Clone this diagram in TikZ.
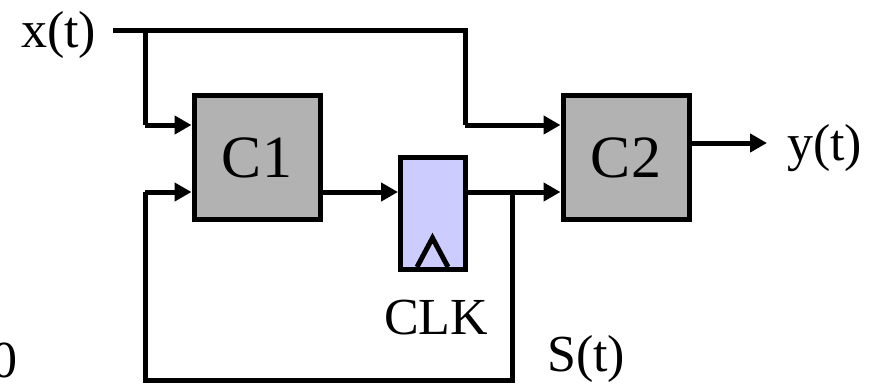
\documentclass[tikz,border=0pt]{standalone}
\usepackage{fontspec}
\setmainfont{Liberation Serif}
\usetikzlibrary{arrows.meta}
\definecolor{boxgray}{HTML}{B2B2B2}
\definecolor{fflav}{HTML}{CCCCFF}
\begin{document}
\begin{tikzpicture}[x=1pt,y=-1pt,
  wire/.style={line width=5pt},
  arr/.style={wire,-{Triangle[length=17pt,width=18pt]}},
  combbox/.style={draw,line width=5pt,fill=boxgray,inner sep=0pt,
    minimum width=126pt,minimum height=124pt,
    font=\fontsize{60}{68}\selectfont},
  ffbox/.style={draw,line width=5pt,fill=fflav,inner sep=0pt,
    minimum width=65pt,minimum height=112pt},
  lbl/.style={inner sep=0pt,font=\fontsize{52}{60}\selectfont}]
\useasboundingbox (0,0) rectangle (880,384);
\node[combbox] (c1) at (257,157.5) {C1};
\node[combbox] (c2) at (626,157.5) {C2};
\node[ffbox] (ff) at (433,213.5) {};
\node[lbl,anchor=base west] (xt) at (21,47) {x(t)};
\node[lbl,anchor=base west] (yt) at (787,160) {y(t)};
\node[lbl,anchor=base west] (clk) at (384,334) {CLK};
\node[lbl,anchor=base west] (st) at (547,371) {S(t)};
\node[lbl,anchor=base east] (zero) at (18,377) {0};
\coordinate (xin) at (113,30);
\coordinate (xs) at (145,30);
\coordinate (xr) at (465,30);
\coordinate (j) at (512,192);
\coordinate (fbr) at (512,380);
\coordinate (fbl) at (145,380);
\coordinate (yend) at (767,143);
% clock triangle
\draw[wire,line join=miter] (417,267) -- (432.5,238) -- (448,267);
% input line
\draw[wire] (xin) -- (xr) -- (465,125);
\draw[arr] (465,125) -- (c2.west |- 0,125);
\draw[wire] (xs) -- (145,125);
\draw[arr] (145,125) -- (c1.west |- 0,125);
% C1 -> FF
\draw[arr] (c1.east |- 0,192) -- (ff.west |- 0,192);
% FF -> C2
\draw[arr] (ff.east |- 0,192) -- (c2.west |- 0,192);
% feedback
\draw[wire] (j) -- (fbr) -- (fbl) -- (145,192);
\draw[arr] (145,192) -- (c1.west |- 0,192);
% output
\draw[arr] (c2.east |- 0,143) -- (yend);
\end{tikzpicture}
\end{document}
